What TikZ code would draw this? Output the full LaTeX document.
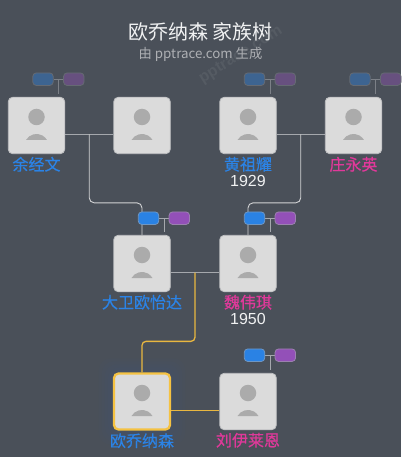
\documentclass[tikz,border=0pt]{standalone}
\usepackage{fontspec}
\setmainfont{Liberation Sans}
\newfontfamily\cjk{Noto Sans CJK SC}
\newfontfamily\cjkheavy{Noto Sans CJK SC}[FakeBold=0.5]
\usetikzlibrary{positioning, calc, backgrounds}

\definecolor{bgcol}{HTML}{4A5059}
\definecolor{cardcol}{HTML}{DBDBDB}
\definecolor{iconcol}{HTML}{ABABAB}
\definecolor{malecol}{HTML}{2B83E6}
\definecolor{femalecol}{HTML}{E0399A}
\definecolor{pillblue}{HTML}{2A82E4}
\definecolor{pillpurple}{HTML}{9350B8}
\definecolor{goldcol}{HTML}{E9B740}
\definecolor{selectcol}{HTML}{F5C242}
\definecolor{linecol}{HTML}{A5A8AD}

\begin{document}
\begin{tikzpicture}[
    x=1pt, y=1pt,
    node distance=48.2pt,
    card/.style={rectangle, draw=#1, line width=0.8pt, fill=cardcol, rounded corners=4.5pt, minimum width=56.5pt, minimum height=56.5pt, inner sep=0pt},
    card/.default=cardcol!80!bgcol,
    head/.style={circle, fill=iconcol, minimum size=16.5pt, inner sep=0pt},
    male/.style={text=malecol, font=\cjkheavy\fontsize{16}{16}\selectfont, inner sep=0pt},
    female/.style={text=femalecol, font=\cjkheavy\fontsize{16}{16}\selectfont, inner sep=0pt},
    year/.style={text=white!92!bgcol, font=\fontsize{16}{16}\selectfont, inner sep=0pt},
    pill/.style={rectangle, draw=#1, line width=0.8pt, rounded corners=3.5pt, minimum width=20.5pt, minimum height=12.5pt, inner sep=0pt},
    bluepill/.style={pill=pillblue!60!white!70!bgcol, fill=pillblue},
    purplepill/.style={pill=pillpurple!60!white!70!bgcol, fill=pillpurple},
    dimblue/.style={pill=bgcol!85!white, fill=pillblue!40!bgcol},
    dimpurple/.style={pill=bgcol!85!white, fill=pillpurple!40!bgcol},
    stem/.style={draw=linecol, line width=1.1pt},
    thinstem/.style={draw=linecol, line width=0.8pt},
    dimstem/.style={draw=linecol!55!bgcol, line width=0.8pt},
    parent/.style={draw=white!75!bgcol, line width=0.9pt, rounded corners=5pt},
    gold/.style={draw=goldcol, line width=1.3pt, rounded corners=4pt}
]
\useasboundingbox (0,0) rectangle (401,-457);

% title
\node [text=white!6!bgcol, font=\bfseries\fontsize{16}{16}\selectfont, rotate=32, inner sep=0pt] (mark) at (241,-55) {pptrace.com};
\node [text=white!92!bgcol, font=\cjk\fontsize{20}{20}\selectfont, inner sep=0pt] (title) at (200.5,-32) {欧乔纳森 家族树};
\node [text=white!55!bgcol, font=\cjk\fontsize{13.3}{15}\selectfont, inner sep=0pt, below=6pt of title] (subtitle) {由 pptrace.com 生成};

% cards
\node [card] (yu) at (36.5,-125.5) {};
\node [card, right=of yu] (spouse) {};
\node [card, right=48.7pt of spouse] (huang) {};
\node [card, right=of huang] (zhuang) {};
\node [card, below=80.7pt of spouse] (david) {};
\node [card, below=80.7pt of huang] (wei) {};
\node [card=selectcol, line width=2.3pt, minimum width=56pt, minimum height=56pt, below=80.2pt of david] (joe) {};
\node [card, below=80.7pt of wei] (liu) {};

% person icons
\foreach \c in {yu, spouse, huang, zhuang, david, wei, joe, liu} {
    \node [head] (\c-head) at ([yshift=8.5pt]\c.center) {};
    \fill [iconcol] ([xshift=-10.5pt,yshift=-14.5pt]\c.center) arc[start angle=150, end angle=30, radius=12.1pt] -- cycle;
}

% names
\node [male, below=2.5pt of yu.south] (yu-name) {余经文};
\node [male, below=2.5pt of huang.south] (huang-name) {黄祖耀};
\node [year, below=3pt of huang-name] (huang-year) {1929};
\node [female, below=2.5pt of zhuang.south] (zhuang-name) {庄永英};
\node [male, below=2.5pt of david.south] (david-name) {大卫欧怡达};
\node [female, below=2.5pt of wei.south] (wei-name) {魏伟琪};
\node [year, below=3pt of wei-name] (wei-year) {1950};
\node [male, below=2.5pt of joe.south] (joe-name) {欧乔纳森};
\node [female, below=2.5pt of liu.south] (liu-name) {刘伊莱恩};

% small pills
\foreach \c/\sb/\sp/\gap in {yu/dimblue/dimpurple/11, huang/dimblue/dimpurple/11, zhuang/dimblue/dimpurple/11, david/bluepill/purplepill/10, wei/bluepill/purplepill/10, liu/bluepill/purplepill/11} {
    \node [\sb, above=\gap pt of \c.north, xshift=6.5pt] (\c-blue) {};
    \node [\sp, right=9.5pt of \c-blue] (\c-purple) {};
    \coordinate (\c-mid) at ($(\c-blue)!.5!(\c-purple)$);
}

% connectors
\begin{scope}[on background layer]
\fill [bgcol] (0,0) rectangle (401,-457);
\foreach \s in {14,11,8,5,2} {
    \fill [malecol, opacity=0.015, rounded corners=12pt] ([shift={(-\s pt,-\s pt)}]joe.south west) rectangle ([shift={(\s pt,\s pt)}]joe.north east);
}
\foreach \c in {yu, huang, zhuang} {
    \path [dimstem] (\c-blue) -- (\c-purple);
    \path [dimstem] (\c-mid) -- ([yshift=3pt]\c-mid |- \c.north);
}
\foreach \c in {david, wei, liu} {
    \path [thinstem] (\c-blue) -- (\c-purple);
    \path [thinstem] (\c-mid) -- ([yshift=3pt]\c-mid |- \c.north);
}
\coordinate (yu-couple) at ($(yu.east)!.5!(spouse.west)+(0,-9pt)$);
\coordinate (huang-couple) at ($(huang.east)!.5!(zhuang.west)+(0,-9pt)$);
\coordinate (david-couple) at ($(david.east)!.5!(wei.west)+(0,-9pt)$);
\path [stem] ([yshift=-9pt]yu.east) -- ([yshift=-9pt]spouse.west);
\path [stem] ([yshift=-9pt]huang.east) -- ([yshift=-9pt]zhuang.west);
\path [stem] ([yshift=-9pt]david.east) -- ([yshift=-9pt]wei.west);
\path [parent] (yu-couple) |- ([yshift=32pt]david.north) -- (david.north);
\path [parent] (huang-couple) |- ([yshift=32pt]wei.north) -- (wei.north);
\path [gold] (david-couple) |- ([yshift=31pt]joe.north) -- (joe.north);
\path [gold, rounded corners=0pt] ([yshift=-9pt]joe.east) -- ([yshift=-9pt]liu.west);
\end{scope}
\end{tikzpicture}
\end{document}
